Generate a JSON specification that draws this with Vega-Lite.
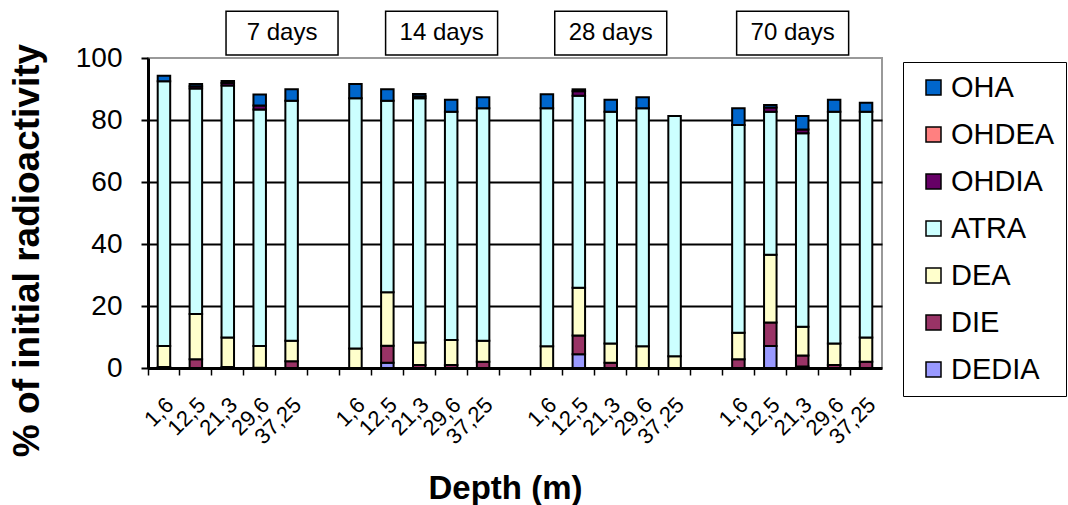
{
  "$schema": "https://vega.github.io/schema/vega-lite/v6.json",
  "width": 734,
  "height": 310,
  "autosize": {"type": "none"},
  "padding": {"left": 148, "top": 58, "right": 186, "bottom": 137},
  "config": {
    "font": "Liberation Sans",
    "view": {"stroke": "#999999", "strokeWidth": 2},
    "background": "white"
  },
  "resolve": {"axis": {"x": "independent", "y": "independent"}},
  "datasets": {
    "bars": [
      {"slot": "7|1,6", "comp": "DIE", "v": 0.3},
      {"slot": "7|1,6", "comp": "DEA", "v": 6.8},
      {"slot": "7|1,6", "comp": "ATRA", "v": 85.4},
      {"slot": "7|1,6", "comp": "OHA", "v": 1.8},
      {"slot": "7|12,5", "comp": "DIE", "v": 2.8},
      {"slot": "7|12,5", "comp": "DEA", "v": 14.6},
      {"slot": "7|12,5", "comp": "ATRA", "v": 72.8},
      {"slot": "7|12,5", "comp": "OHDIA", "v": 0.7},
      {"slot": "7|12,5", "comp": "OHA", "v": 0.7},
      {"slot": "7|21,3", "comp": "DIE", "v": 0.3},
      {"slot": "7|21,3", "comp": "DEA", "v": 9.5},
      {"slot": "7|21,3", "comp": "ATRA", "v": 81.3},
      {"slot": "7|21,3", "comp": "OHDIA", "v": 0.8},
      {"slot": "7|21,3", "comp": "OHA", "v": 0.7},
      {"slot": "7|29,6", "comp": "DIE", "v": 0.1},
      {"slot": "7|29,6", "comp": "DEA", "v": 7.0},
      {"slot": "7|29,6", "comp": "ATRA", "v": 76.3},
      {"slot": "7|29,6", "comp": "OHDIA", "v": 1.3},
      {"slot": "7|29,6", "comp": "OHA", "v": 3.5},
      {"slot": "7|37,25", "comp": "DIE", "v": 2.2},
      {"slot": "7|37,25", "comp": "DEA", "v": 6.6},
      {"slot": "7|37,25", "comp": "ATRA", "v": 77.4},
      {"slot": "7|37,25", "comp": "OHA", "v": 3.7},
      {"slot": "14|1,6", "comp": "DEA", "v": 6.3},
      {"slot": "14|1,6", "comp": "ATRA", "v": 80.7},
      {"slot": "14|1,6", "comp": "OHA", "v": 4.6},
      {"slot": "14|12,5", "comp": "DEDIA", "v": 1.7},
      {"slot": "14|12,5", "comp": "DIE", "v": 5.5},
      {"slot": "14|12,5", "comp": "DEA", "v": 17.2},
      {"slot": "14|12,5", "comp": "ATRA", "v": 61.8},
      {"slot": "14|12,5", "comp": "OHA", "v": 3.7},
      {"slot": "14|21,3", "comp": "DIE", "v": 1.0},
      {"slot": "14|21,3", "comp": "DEA", "v": 7.2},
      {"slot": "14|21,3", "comp": "ATRA", "v": 78.8},
      {"slot": "14|21,3", "comp": "OHDIA", "v": 0.7},
      {"slot": "14|21,3", "comp": "OHA", "v": 0.7},
      {"slot": "14|29,6", "comp": "DIE", "v": 1.0},
      {"slot": "14|29,6", "comp": "DEA", "v": 8.0},
      {"slot": "14|29,6", "comp": "ATRA", "v": 73.7},
      {"slot": "14|29,6", "comp": "OHA", "v": 3.8},
      {"slot": "14|37,25", "comp": "DIE", "v": 2.0},
      {"slot": "14|37,25", "comp": "DEA", "v": 6.8},
      {"slot": "14|37,25", "comp": "ATRA", "v": 75.0},
      {"slot": "14|37,25", "comp": "OHA", "v": 3.5},
      {"slot": "28|1,6", "comp": "DEA", "v": 7.0},
      {"slot": "28|1,6", "comp": "ATRA", "v": 76.8},
      {"slot": "28|1,6", "comp": "OHA", "v": 4.5},
      {"slot": "28|12,5", "comp": "DEDIA", "v": 4.4},
      {"slot": "28|12,5", "comp": "DIE", "v": 6.1},
      {"slot": "28|12,5", "comp": "DEA", "v": 15.4},
      {"slot": "28|12,5", "comp": "ATRA", "v": 61.9},
      {"slot": "28|12,5", "comp": "OHDIA", "v": 1.5},
      {"slot": "28|12,5", "comp": "OHA", "v": 0.6},
      {"slot": "28|21,3", "comp": "DIE", "v": 1.7},
      {"slot": "28|21,3", "comp": "DEA", "v": 6.2},
      {"slot": "28|21,3", "comp": "ATRA", "v": 74.8},
      {"slot": "28|21,3", "comp": "OHA", "v": 3.8},
      {"slot": "28|29,6", "comp": "DEA", "v": 7.0},
      {"slot": "28|29,6", "comp": "ATRA", "v": 76.8},
      {"slot": "28|29,6", "comp": "OHA", "v": 3.5},
      {"slot": "28|37,25", "comp": "DEA", "v": 3.8},
      {"slot": "28|37,25", "comp": "ATRA", "v": 77.5},
      {"slot": "70|1,6", "comp": "DIE", "v": 2.8},
      {"slot": "70|1,6", "comp": "DEA", "v": 8.6},
      {"slot": "70|1,6", "comp": "ATRA", "v": 67.0},
      {"slot": "70|1,6", "comp": "OHA", "v": 5.4},
      {"slot": "70|12,5", "comp": "DEDIA", "v": 7.1},
      {"slot": "70|12,5", "comp": "DIE", "v": 7.6},
      {"slot": "70|12,5", "comp": "DEA", "v": 21.8},
      {"slot": "70|12,5", "comp": "ATRA", "v": 46.2},
      {"slot": "70|12,5", "comp": "OHDIA", "v": 1.3},
      {"slot": "70|12,5", "comp": "OHA", "v": 0.8},
      {"slot": "70|21,3", "comp": "DEDIA", "v": 0.5},
      {"slot": "70|21,3", "comp": "DIE", "v": 3.5},
      {"slot": "70|21,3", "comp": "DEA", "v": 9.3},
      {"slot": "70|21,3", "comp": "ATRA", "v": 62.4},
      {"slot": "70|21,3", "comp": "OHDIA", "v": 1.2},
      {"slot": "70|21,3", "comp": "OHA", "v": 4.4},
      {"slot": "70|29,6", "comp": "DIE", "v": 1.0},
      {"slot": "70|29,6", "comp": "DEA", "v": 6.9},
      {"slot": "70|29,6", "comp": "ATRA", "v": 74.8},
      {"slot": "70|29,6", "comp": "OHA", "v": 3.8},
      {"slot": "70|37,25", "comp": "DIE", "v": 2.0},
      {"slot": "70|37,25", "comp": "DEA", "v": 7.8},
      {"slot": "70|37,25", "comp": "ATRA", "v": 72.9},
      {"slot": "70|37,25", "comp": "OHA", "v": 2.9}
    ],
    "titlesA": [
      {"pos": "7|37,25", "label": "7 days"},
      {"pos": "14|29,6", "label": "14 days"},
      {"pos": "70|21,3", "label": "70 days"}
    ],
    "titlesB": [
      {"pos": "28|21,3", "label": "28 days"}
    ]
  },
  "layer": [
    {
      "data": {"name": "bars"},
      "transform": [
        {"calculate": "indexof(['DEDIA','DIE','DEA','ATRA','OHDIA','OHDEA','OHA'], datum.comp)", "as": "k"}
      ],
      "mark": {"type": "bar", "width": 12.5, "stroke": "black", "strokeWidth": 2},
      "encoding": {
        "x": {
          "field": "slot",
          "type": "ordinal",
          "scale": {
            "domain": ["7|1,6", "7|12,5", "7|21,3", "7|29,6", "7|37,25", "g1",
                       "14|1,6", "14|12,5", "14|21,3", "14|29,6", "14|37,25", "g2",
                       "28|1,6", "28|12,5", "28|21,3", "28|29,6", "28|37,25", "g3",
                       "70|1,6", "70|12,5", "70|21,3", "70|29,6", "70|37,25"],
            "paddingInner": 0,
            "paddingOuter": 0
          },
          "axis": {
            "title": "Depth (m)",
            "titleFontSize": 33,
            "titleFontWeight": "bold",
            "titleColor": "black",
            "titleX": 357,
            "titleY": 130,
            "titleBaseline": "alphabetic",
            "labelExpr": "indexof(datum.value, '|') >= 0 ? split(datum.value, '|')[1] : ''",
            "labelAngle": -45,
            "labelAlign": "right",
            "labelBaseline": "middle",
            "labelFontSize": 22,
            "labelColor": "black",
            "labelPadding": 26,
            "labelOffset": 6,
            "bandPosition": 0,
            "tickSize": 7,
            "tickWidth": 1.5,
            "tickColor": "black",
            "domainColor": "black",
            "domainWidth": 3,
            "grid": false,
            "labelOverlap": false
          }
        },
        "y": {
          "aggregate": "sum",
          "field": "v",
          "type": "quantitative",
          "stack": "zero",
          "scale": {"domain": [0, 100], "nice": false},
          "axis": {
            "title": "% of initial radioactivity",
            "titleFontSize": 37,
            "titleFontWeight": "bold",
            "titleColor": "black",
            "titleX": -110,
            "titleY": 192,
            "titleAngle": -90,
            "titleBaseline": "alphabetic",
            "titleAlign": "center",
            "values": [0, 20, 40, 60, 80, 100],
            "labelFontSize": 28,
            "labelColor": "black",
            "labelPadding": 19,
            "tickSize": 7,
            "tickWidth": 2,
            "tickColor": "black",
            "domainColor": "black",
            "domainWidth": 3,
            "grid": true,
            "gridWidth": 2,
            "gridColor": {"condition": {"test": "datum.value >= 100 || datum.value <= 0", "value": "transparent"}, "value": "black"}
          }
        },
        "color": {
          "field": "comp",
          "type": "nominal",
          "scale": {
            "domain": ["OHA", "OHDEA", "OHDIA", "ATRA", "DEA", "DIE", "DEDIA"],
            "range": ["#0066CC", "#FF8080", "#660066", "#CCFFFF", "#FFFFCC", "#993366", "#9999FF"]
          },
          "legend": {
            "title": null,
            "orient": "none",
            "legendX": 755,
            "legendY": 4,
            "padding": 11,
            "strokeColor": "black",
            "symbolType": "square",
            "symbolSize": 225,
            "symbolOffset": 5,
            "symbolStrokeColor": "black",
            "symbolStrokeWidth": 1.5,
            "labelFontSize": 29,
            "labelColor": "black",
            "labelOffset": 3,
            "rowPadding": 17
          }
        },
        "order": {"field": "k", "type": "quantitative"}
      }
    },
    {
      "data": {"name": "titlesA"},
      "encoding": {
        "x": {
          "field": "pos", "type": "ordinal", "bandPosition": 0.2, "axis": null,
          "scale": {
            "domain": ["7|1,6", "7|12,5", "7|21,3", "7|29,6", "7|37,25", "g1",
                       "14|1,6", "14|12,5", "14|21,3", "14|29,6", "14|37,25", "g2",
                       "28|1,6", "28|12,5", "28|21,3", "28|29,6", "28|37,25", "g3",
                       "70|1,6", "70|12,5", "70|21,3", "70|29,6", "70|37,25"],
            "paddingInner": 0, "paddingOuter": 0
          }
        },
        "y": {"datum": 108, "type": "quantitative", "axis": null, "scale": {"domain": [0, 100], "nice": false}}
      },
      "layer": [
        {"mark": {"type": "point", "shape": "M-1,-0.39L1,-0.39L1,0.39L-1,0.39Z", "size": 12544, "filled": true, "fill": "white", "stroke": "black", "strokeWidth": 1.5, "opacity": 1}},
        {"mark": {"type": "text", "fontSize": 24, "color": "black", "baseline": "middle", "align": "center"}, "encoding": {"text": {"field": "label"}}}
      ]
    },
    {
      "data": {"name": "titlesB"},
      "encoding": {
        "x": {
          "field": "pos", "type": "ordinal", "bandPosition": 0.5, "axis": null,
          "scale": {
            "domain": ["7|1,6", "7|12,5", "7|21,3", "7|29,6", "7|37,25", "g1",
                       "14|1,6", "14|12,5", "14|21,3", "14|29,6", "14|37,25", "g2",
                       "28|1,6", "28|12,5", "28|21,3", "28|29,6", "28|37,25", "g3",
                       "70|1,6", "70|12,5", "70|21,3", "70|29,6", "70|37,25"],
            "paddingInner": 0, "paddingOuter": 0
          }
        },
        "y": {"datum": 108, "type": "quantitative", "axis": null, "scale": {"domain": [0, 100], "nice": false}}
      },
      "layer": [
        {"mark": {"type": "point", "shape": "M-1,-0.39L1,-0.39L1,0.39L-1,0.39Z", "size": 12544, "filled": true, "fill": "white", "stroke": "black", "strokeWidth": 1.5, "opacity": 1}},
        {"mark": {"type": "text", "fontSize": 24, "color": "black", "baseline": "middle", "align": "center"}, "encoding": {"text": {"field": "label"}}}
      ]
    }
  ]
}
